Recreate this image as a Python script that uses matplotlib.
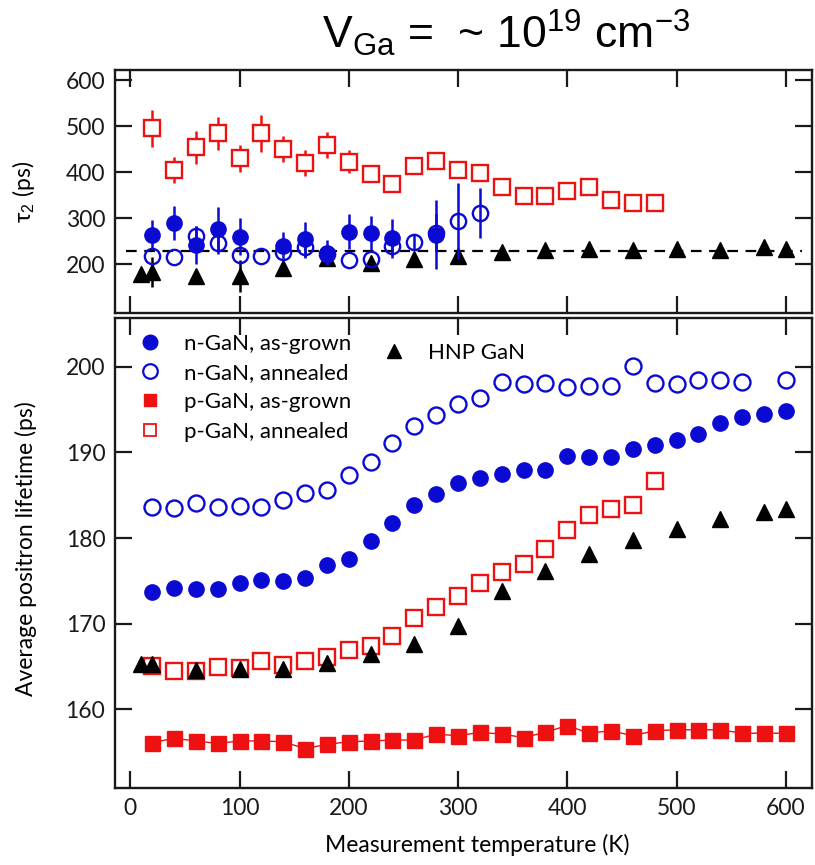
import matplotlib
matplotlib.use("Agg")
import matplotlib.pyplot as plt
from matplotlib.lines import Line2D

plt.rcParams['font.family'] = ['Lato', 'DejaVu Sans']
plt.rcParams['mathtext.fontset'] = 'custom'
plt.rcParams['mathtext.rm'] = 'Liberation Sans'
plt.rcParams['mathtext.it'] = 'Liberation Sans:italic'

BLUE = '#0a0ad2'
RED = '#ee1111'

# ---------------- data: bottom panel (average positron lifetime, ps) -------------
n_grown_T = [20, 40, 60, 80, 100, 120, 140, 160, 180, 200, 220, 240, 260, 280, 300,
             320, 340, 360, 380, 400, 420, 440, 460, 480, 500, 520, 540, 560, 580, 600]
n_grown_avg = [173.7, 174.2, 174.0, 174.0, 174.7, 175.1, 175.0, 175.3, 176.8, 177.6,
               179.6, 181.7, 183.8, 185.1, 186.4, 187.0, 187.5, 187.9, 188.0, 189.6,
               189.5, 189.5, 190.4, 190.9, 191.5, 192.1, 193.4, 194.1, 194.5, 194.8]

n_ann_T = [20, 40, 60, 80, 100, 120, 140, 160, 180, 200, 220, 240, 260, 280, 300,
           320, 340, 360, 380, 400, 420, 440, 460, 480, 500, 520, 540, 560, 600]
n_ann_avg = [183.6, 183.5, 184.1, 183.6, 183.7, 183.6, 184.4, 185.3, 185.6, 187.4,
             188.9, 191.1, 193.1, 194.4, 195.7, 196.4, 198.2, 198.0, 198.1, 197.6,
             197.7, 197.7, 200.1, 198.1, 198.0, 198.4, 198.4, 198.2, 198.5]

p_grown_T = [20, 40, 60, 80, 100, 120, 140, 160, 180, 200, 220, 240, 260, 280, 300,
             320, 340, 360, 380, 400, 420, 440, 460, 480, 500, 520, 540, 560, 580, 600]
p_grown_avg = [156.1, 156.6, 156.3, 156.0, 156.3, 156.3, 156.2, 155.4, 155.9, 156.2,
               156.3, 156.4, 156.4, 157.1, 156.9, 157.3, 157.1, 156.7, 157.3, 158.1,
               157.2, 157.5, 156.9, 157.5, 157.6, 157.6, 157.6, 157.2, 157.2, 157.2]

p_ann_T = [20, 40, 60, 80, 100, 120, 140, 160, 180, 200, 220, 240, 260, 280, 300,
           320, 340, 360, 380, 400, 420, 440, 460, 480]
p_ann_avg = [165.0, 164.5, 164.5, 164.9, 164.8, 165.6, 165.2, 165.6, 166.1, 166.9,
             167.4, 168.6, 170.6, 172.0, 173.2, 174.8, 176.0, 177.0, 178.7, 180.9,
             182.7, 183.4, 183.9, 186.7]

hnp_T = [10, 20, 60, 100, 140, 180, 220, 260, 300, 340, 380, 420, 460, 500, 540, 580, 600]
hnp_avg = [165.3, 165.3, 164.6, 164.7, 164.7, 165.4, 166.5, 167.6, 169.7, 173.8,
           176.2, 178.1, 179.8, 181.1, 182.2, 183.0, 183.4]

# ---------------- data: top panel (tau2, ps) --------------------------------------
tau_p_ann_T = p_ann_T
tau_p_ann = [495, 404, 454, 484, 430, 484, 450, 420, 459, 423, 397, 374, 413, 425,
             405, 399, 368, 348, 348, 360, 367, 340, 334, 334]
tau_p_ann_err = [41, 28, 36, 35, 30, 40, 28, 28, 29, 25, 8, 8, 8, 8,
                 8, 8, 8, 8, 8, 8, 8, 8, 8, 8]

tau_n_grown_T = [20, 40, 60, 80, 100, 140, 160, 180, 200, 220, 240, 280]
tau_n_grown = [264, 289, 242, 277, 260, 240, 254, 225, 271, 267, 256, 264]
tau_n_grown_err = [31, 37, 42, 48, 41, 29, 38, 27, 39, 37, 42, 75]

tau_n_ann_T = [20, 40, 60, 80, 100, 120, 140, 160, 180, 200, 220, 240, 260, 280, 300, 320]
tau_n_ann = [217, 215, 262, 247, 220, 218, 227, 238, 222, 209, 211, 240, 249, 268, 294, 311]
tau_n_ann_err = [0, 0, 20, 24, 0, 0, 0, 25, 0, 0, 0, 20, 15, 40, 82, 55]

tau_hnp_T = hnp_T
tau_hnp = [179, 183, 175, 175, 192, 213, 202, 211, 218, 226, 230, 234, 230, 233,
           231, 237, 233]
tau_hnp_err = [0, 33, 0, 35, 0, 0, 0, 0, 0, 0, 0, 0, 0, 0, 0, 0, 0]

tau_ref_level = 229
tau_ref_span = [-4, 615]

x_ticks = [0, 100, 200, 300, 400, 500, 600]
top_yticks = [200, 300, 400, 500, 600]
bot_yticks = [160, 170, 180, 190, 200]

FS = 16.5

# ---------------- figure -----------------------------------------------------------
fig = plt.figure(figsize=(8.15, 8.65), dpi=100)
ax1 = fig.add_axes([0.1411, 0.6382, 0.8552, 0.2809])
ax2 = fig.add_axes([0.1411, 0.0890, 0.8552, 0.5434])

for ax in (ax1, ax2):
    ax.set_xlim(-14, 624)
    ax.set_xticks(x_ticks)
    ax.tick_params(direction='in', length=12, width=1.6, top=True, right=True,
                   labelsize=FS, pad=7, colors='#1a1a1a')
    for s in ax.spines.values():
        s.set_linewidth(1.7)
        s.set_color('#1a1a1a')

ax1.set_ylim(94, 622)
ax1.set_yticks(top_yticks)
ax1.tick_params(labelbottom=False)
ax2.set_ylim(150.8, 205.7)
ax2.set_yticks(bot_yticks)

# ---- top panel
ax1.hlines(tau_ref_level, tau_ref_span[0], tau_ref_span[1], colors='black',
           linestyles=(0, (4.8, 3.4)), linewidth=1.6, zorder=1)
ax1.errorbar(tau_p_ann_T, tau_p_ann, yerr=tau_p_ann_err, fmt='s', ms=12,
             mfc='white', mec=RED, mew=1.7, ecolor=RED, elinewidth=1.8, capsize=0, zorder=3)
ax1.errorbar(tau_hnp_T, tau_hnp, yerr=tau_hnp_err, fmt='^', ms=11.5,
             mfc='black', mec='black', ecolor='black', elinewidth=1.8, capsize=0, zorder=4)
ax1.errorbar(tau_n_grown_T, tau_n_grown, yerr=tau_n_grown_err, fmt='o', ms=11,
             mfc=BLUE, mec=BLUE, ecolor=BLUE, elinewidth=1.8, capsize=0, zorder=5)
ax1.errorbar(tau_n_ann_T, tau_n_ann, yerr=tau_n_ann_err, fmt='o', ms=11,
             mfc='none', mec=BLUE, mew=1.7, ecolor=BLUE, elinewidth=1.8, capsize=0, zorder=6)
ax1.set_ylabel('τ$_2$ (ps)', fontsize=FS)
ax1.yaxis.set_label_coords(-0.112, 0.5)

# ---- bottom panel
ax2.plot(p_grown_T, p_grown_avg, '-s', color=RED, lw=1.0, ms=10.8, mec=RED, zorder=3)
ax2.plot(p_ann_T, p_ann_avg, 's', ms=11, mfc='white', mec=RED, mew=1.7, zorder=3)
ax2.plot(hnp_T, hnp_avg, '^', ms=11, color='black', zorder=4)
ax2.plot(n_grown_T, n_grown_avg, 'o', ms=11, color=BLUE, zorder=3)
ax2.plot(n_ann_T, n_ann_avg, 'o', ms=11.5, mfc='white', mec=BLUE, mew=1.7, zorder=3)

ax2.set_ylabel('Average positron lifetime (ps)', fontsize=FS)
ax2.yaxis.set_label_coords(-0.112, 0.51)
ax2.set_xlabel('Measurement temperature (K)', fontsize=FS)
ax2.xaxis.set_label_coords(0.52, -0.097)

handles = [
    Line2D([], [], ls='none', marker='o', ms=10.5, color=BLUE),
    Line2D([], [], ls='none', marker='o', ms=10.5, mfc='white', mec=BLUE, mew=1.6),
    Line2D([], [], ls='none', marker='s', ms=9, color=RED),
    Line2D([], [], ls='none', marker='s', ms=9, mfc='white', mec=RED, mew=1.3),
]
labels = ['n-GaN, as-grown', 'n-GaN, annealed', 'p-GaN, as-grown', 'p-GaN, annealed']
leg = ax2.legend(handles, labels, loc='upper left', bbox_to_anchor=(0.012, 1.0),
                 frameon=False, fontsize=16, handlelength=1.0, handletextpad=1.05,
                 labelspacing=0.42, borderaxespad=0.3)
ax2.add_artist(leg)
ax2.legend([Line2D([], [], ls='none', marker='^', ms=10.5, color='black')], ['HNP GaN'],
           loc='upper left', bbox_to_anchor=(0.355, 0.99), frameon=False, fontsize=16,
           handlelength=1.0, handletextpad=1.05)

fig.text(0.621, 0.962, r'V$_{\rm Ga}$ =  ~ 10$^{19}$ cm$^{-3}$', fontsize=32,
         ha='center', va='center', family='Liberation Sans')

fig.savefig('out.png', dpi=100)
